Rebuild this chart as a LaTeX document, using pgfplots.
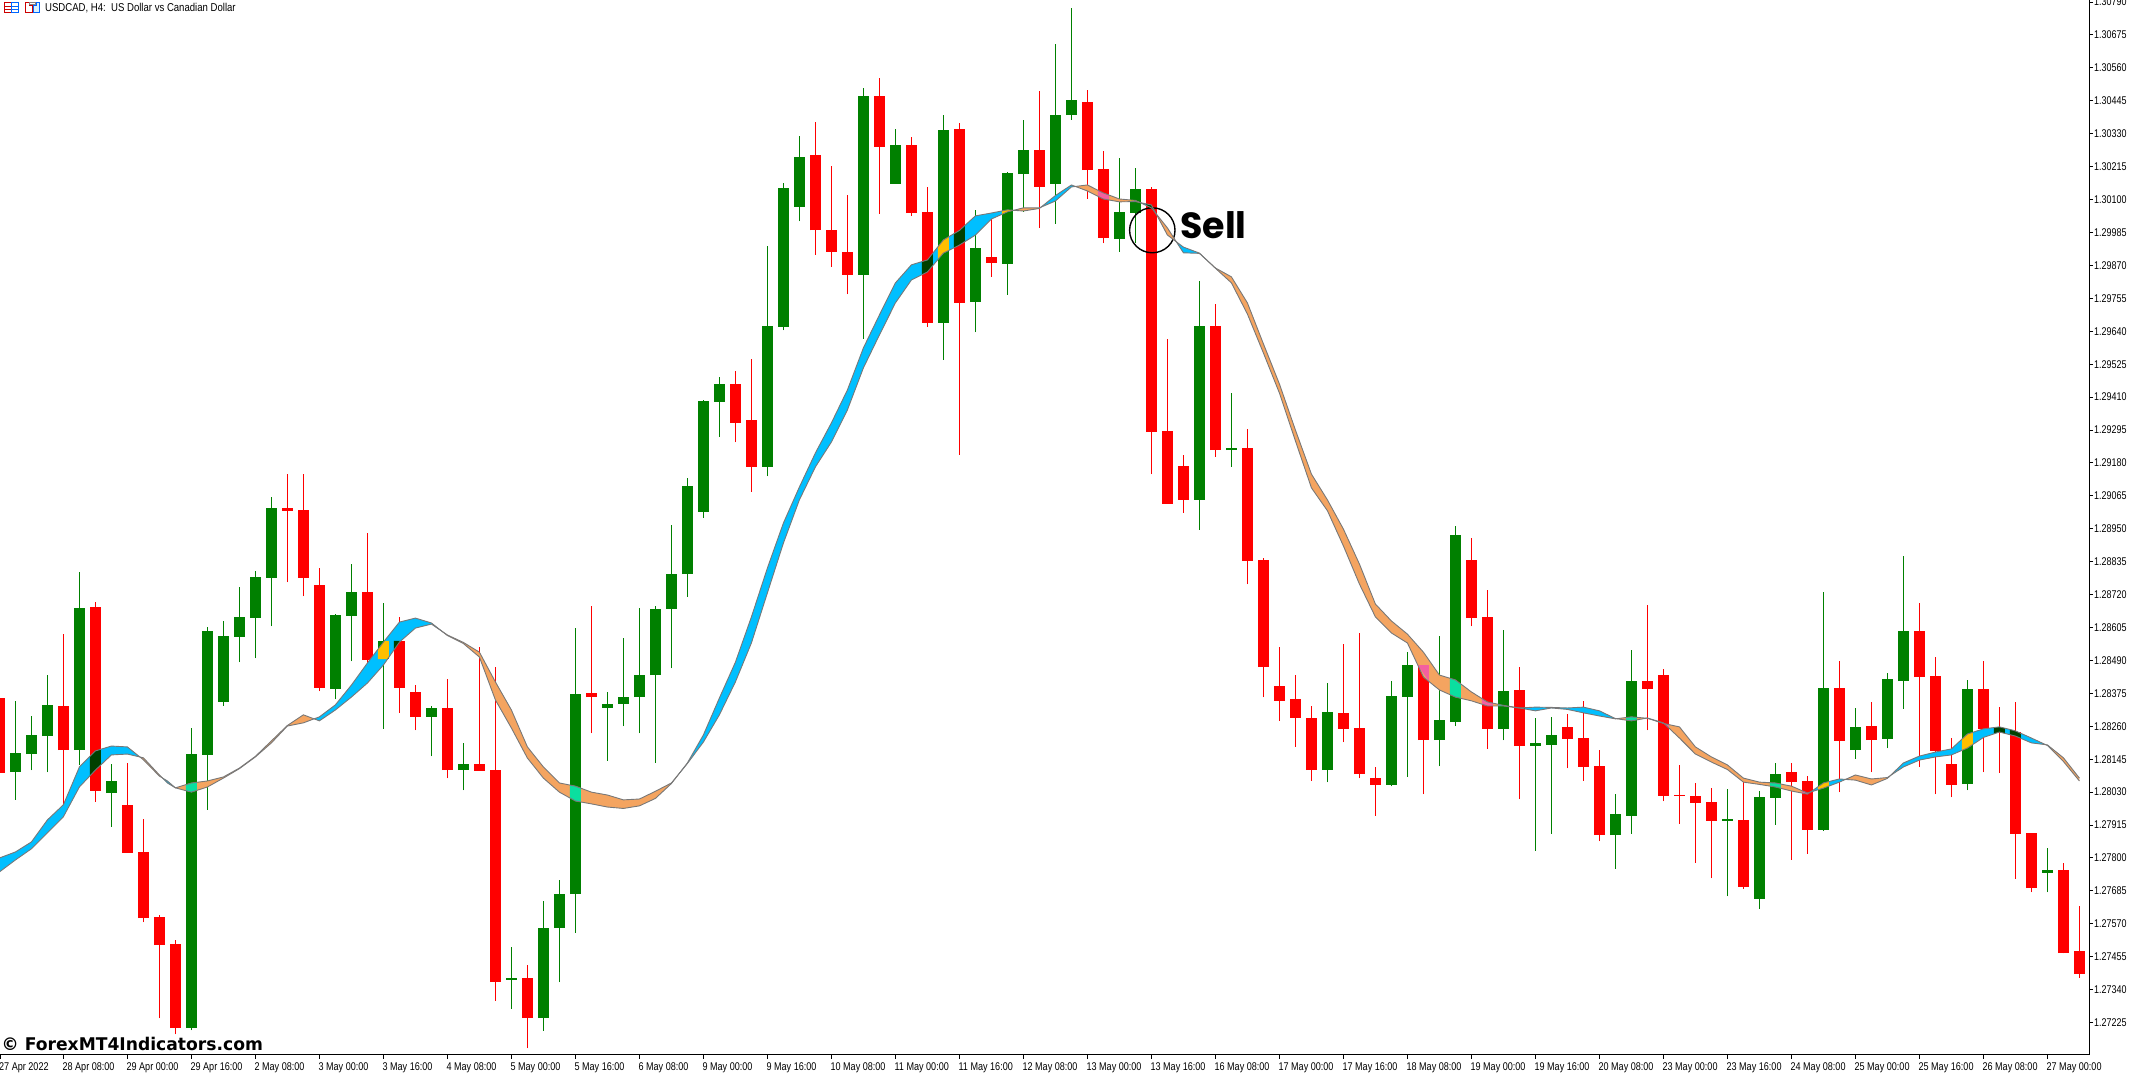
\documentclass[border=0pt]{standalone}
\usepackage{fontspec}
\setmainfont{Liberation Sans}
\newfontfamily\poppins{Poppins}
\newfontfamily\dvsans{DejaVu Sans}
\usepackage{pgfplots}
\usepackage{pgfplotstable}
\pgfplotsset{compat=1.18}
\usepgfplotslibrary{fillbetween}

\definecolor{cgreen}{HTML}{008000}
\definecolor{cred}{HTML}{FF0000}
\definecolor{cblue}{HTML}{00BFFF}
\definecolor{corange}{HTML}{F4A460}
\definecolor{cline}{HTML}{787878}
\definecolor{camber}{HTML}{FFBF00}
\definecolor{cdark}{HTML}{004000}
\definecolor{cteal}{HTML}{0BDF9F}
\definecolor{cpink}{HTML}{F4609F}

% USDCAD H4, k = bar number from the left edge
\pgfplotstableread{
k open high low close
0 1.28359 1.28359 1.28097 1.28097
1 1.28100 1.28349 1.28003 1.28167
2 1.28163 1.28296 1.28107 1.28230
3 1.28226 1.28439 1.28100 1.28335
4 1.28331 1.28582 1.27989 1.28177
5 1.28177 1.28799 1.28125 1.28673
6 1.28677 1.28694 1.27996 1.28034
7 1.28027 1.28128 1.27909 1.28069
8 1.27986 1.28132 1.27818 1.27818
9 1.27821 1.27937 1.27576 1.27590
10 1.27594 1.27601 1.27241 1.27496
11 1.27499 1.27513 1.27185 1.27206
12 1.27206 1.28254 1.27199 1.28163
13 1.28160 1.28607 1.27968 1.28593
14 1.28345 1.28628 1.28331 1.28575
15 1.28572 1.28747 1.28484 1.28642
16 1.28638 1.28803 1.28498 1.28782
17 1.28779 1.29061 1.28610 1.29023
18 1.29023 1.29141 1.28764 1.29013
19 1.29016 1.29141 1.28715 1.28779
20 1.28754 1.28813 1.28383 1.28394
21 1.28390 1.28652 1.28355 1.28649
22 1.28645 1.28827 1.28488 1.28729
23 1.28729 1.28936 1.28463 1.28491
24 1.28495 1.28691 1.28251 1.28558
25 1.28558 1.28642 1.28307 1.28394
26 1.28380 1.28404 1.28247 1.28293
27 1.28293 1.28331 1.28156 1.28324
28 1.28324 1.28425 1.28079 1.28107
29 1.28107 1.28202 1.28037 1.28128
30 1.28128 1.28537 1.28104 1.28104
31 1.28107 1.28467 1.27301 1.27366
32 1.27374 1.27489 1.27273 1.27381
33 1.27381 1.27426 1.27136 1.27241
34 1.27241 1.27650 1.27196 1.27555
35 1.27555 1.27723 1.27366 1.27674
36 1.27674 1.28603 1.27538 1.28373
37 1.28376 1.28680 1.28236 1.28362
38 1.28324 1.28380 1.28139 1.28338
39 1.28338 1.28568 1.28261 1.28362
40 1.28362 1.28673 1.28236 1.28439
41 1.28439 1.28680 1.28132 1.28670
42 1.28670 1.28964 1.28463 1.28792
43 1.28792 1.29128 1.28712 1.29100
44 1.29009 1.29400 1.28988 1.29396
45 1.29393 1.29480 1.29271 1.29456
46 1.29456 1.29501 1.29253 1.29320
47 1.29330 1.29543 1.29079 1.29166
48 1.29166 1.29938 1.29134 1.29658
49 1.29655 1.30158 1.29644 1.30140
50 1.30075 1.30322 1.30025 1.30249
51 1.30256 1.30371 1.29908 1.29992
52 1.29995 1.30217 1.29865 1.29917
53 1.29917 1.30116 1.29770 1.29837
54 1.29837 1.30490 1.29613 1.30462
55 1.30462 1.30525 1.30050 1.30284
56 1.30155 1.30347 1.30155 1.30291
57 1.30291 1.30319 1.30043 1.30053
58 1.30057 1.30144 1.29655 1.29669
59 1.29669 1.30395 1.29540 1.30343
60 1.30347 1.30367 1.29208 1.29739
61 1.29742 1.30064 1.29637 1.29931
62 1.29899 1.30032 1.29830 1.29878
63 1.29875 1.30196 1.29767 1.30193
64 1.30189 1.30378 1.30057 1.30273
65 1.30273 1.30479 1.30001 1.30144
66 1.30155 1.30643 1.30015 1.30395
67 1.30395 1.30769 1.30378 1.30448
68 1.30441 1.30483 1.30102 1.30203
69 1.30207 1.30270 1.29948 1.29966
70 1.29962 1.30245 1.29917 1.30057
71 1.30053 1.30210 1.29948 1.30137
72 1.30137 1.30144 1.29141 1.29288
73 1.29292 1.29613 1.29037 1.29037
74 1.29169 1.29208 1.29006 1.29051
75 1.29051 1.29816 1.28946 1.29658
76 1.29658 1.29735 1.29201 1.29225
77 1.29225 1.29424 1.29166 1.29232
78 1.29232 1.29299 1.28757 1.28837
79 1.28841 1.28848 1.28362 1.28467
80 1.28401 1.28537 1.28279 1.28349
81 1.28355 1.28439 1.28188 1.28289
82 1.28289 1.28331 1.28069 1.28107
83 1.28107 1.28411 1.28065 1.28310
84 1.28307 1.28548 1.28205 1.28251
85 1.28254 1.28586 1.28079 1.28093
86 1.28079 1.28118 1.27947 1.28055
87 1.28055 1.28418 1.28051 1.28366
88 1.28362 1.28519 1.28083 1.28474
89 1.28474 1.28516 1.28023 1.28212
90 1.28212 1.28575 1.28121 1.28282
91 1.28275 1.28960 1.28261 1.28928
92 1.28841 1.28918 1.28610 1.28638
93 1.28642 1.28736 1.28181 1.28251
94 1.28251 1.28596 1.28212 1.28383
95 1.28387 1.28467 1.28006 1.28191
96 1.28191 1.28289 1.27825 1.28202
97 1.28195 1.28293 1.27884 1.28230
98 1.28258 1.28303 1.28114 1.28216
99 1.28219 1.28349 1.28069 1.28118
100 1.28121 1.28177 1.27859 1.27880
101 1.27880 1.28023 1.27762 1.27954
102 1.27947 1.28526 1.27884 1.28418
103 1.28418 1.28684 1.28247 1.28390
104 1.28439 1.28460 1.27999 1.28017
105 1.28020 1.28125 1.27919 1.28017
106 1.28017 1.28062 1.27783 1.27993
107 1.27996 1.28044 1.27730 1.27930
108 1.27930 1.28041 1.27667 1.27937
109 1.27933 1.28079 1.27692 1.27699
110 1.27657 1.28034 1.27622 1.28013
111 1.28010 1.28132 1.27916 1.28093
112 1.28100 1.28132 1.27793 1.28065
113 1.28069 1.28086 1.27814 1.27898
114 1.27898 1.28729 1.27895 1.28394
115 1.28394 1.28488 1.28030 1.28209
116 1.28177 1.28324 1.28146 1.28258
117 1.28261 1.28345 1.28100 1.28212
118 1.28216 1.28446 1.28184 1.28425
119 1.28418 1.28855 1.28321 1.28593
120 1.28593 1.28691 1.28118 1.28432
121 1.28436 1.28502 1.28023 1.28174
122 1.28128 1.28219 1.28013 1.28055
123 1.28058 1.28422 1.28037 1.28390
124 1.28390 1.28488 1.28100 1.28251
125 1.28254 1.28328 1.28097 1.28236
126 1.28240 1.28345 1.27727 1.27884
127 1.27888 1.27888 1.27681 1.27695
128 1.27748 1.27835 1.27681 1.27758
129 1.27758 1.27783 1.27468 1.27468
130 1.27475 1.27632 1.27381 1.27395
}\ohlc

% the two averages of the ribbon
\pgfplotstableread{
k a b
0 1.27800 1.27751
1 1.27821 1.27793
2 1.27856 1.27832
3 1.27933 1.27888
4 1.27986 1.27944
5 1.28118 1.28048
6 1.28174 1.28107
7 1.28191 1.28160
8 1.28188 1.28163
9 1.28143 1.28150
10 1.28086 1.28090
10.5 1.28069 1.28062
11 1.28045 1.28045
12 1.28030 1.28062
13 1.28048 1.28069
14 1.28079 1.28083
15 1.28112 1.28114
16 1.28153 1.28155
17 1.28202 1.28209
18 1.28261 1.28263
19 1.28272 1.28300
20 1.28293 1.28279
21 1.28335 1.28317
22 1.28404 1.28362
23 1.28481 1.28411
24 1.28554 1.28474
25 1.28624 1.28554
26 1.28638 1.28603
27 1.28621 1.28617
28 1.28577 1.28579
29 1.28549 1.28553
30 1.28502 1.28519
31 1.28352 1.28415
32 1.28254 1.28317
33 1.28149 1.28188
34 1.28079 1.28118
35 1.28030 1.28062
36 1.27999 1.28051
37 1.27989 1.28030
38 1.27978 1.28020
39 1.27973 1.28003
40 1.27982 1.28006
41 1.28008 1.28033
42 1.28060 1.28062
43 1.28132 1.28130
44 1.28230 1.28205
45 1.28359 1.28300
46 1.28484 1.28415
47 1.28642 1.28551
48 1.28813 1.28726
49 1.28970 1.28900
50 1.29096 1.29051
51 1.29215 1.29166
52 1.29320 1.29253
53 1.29435 1.29365
54 1.29582 1.29512
55 1.29697 1.29627
56 1.29809 1.29739
57 1.29872 1.29819
58 1.29889 1.29847
59 1.29959 1.29913
60 1.29992 1.29941
61 1.30043 1.29976
62 1.30053 1.30032
63 1.30064 1.30057
64 1.30060 1.30071
65 1.30069 1.30071
66 1.30114 1.30095
67 1.30151 1.30144
68 1.30130 1.30151
69 1.30102 1.30123
70 1.30092 1.30102
71 1.30093 1.30097
72 1.30081 1.30071
73 1.29976 1.30001
74 1.29934 1.29914
75 1.29913 1.29912
76 1.29860 1.29861
77 1.29809 1.29830
78 1.29700 1.29739
79 1.29564 1.29596
80 1.29424 1.29456
81 1.29257 1.29295
82 1.29093 1.29141
83 1.29013 1.29051
84 1.28890 1.28949
85 1.28757 1.28827
86 1.28642 1.28687
87 1.28586 1.28628
88 1.28551 1.28582
89 1.28432 1.28519
90 1.28387 1.28439
91 1.28362 1.28422
92 1.28349 1.28380
93 1.28331 1.28345
94 1.28331 1.28333
95 1.28324 1.28324
96 1.28327 1.28314
97 1.28326 1.28324
98 1.28324 1.28319
99 1.28327 1.28307
100 1.28314 1.28296
101 1.28287 1.28286
102 1.28279 1.28293
103 1.28289 1.28288
104 1.28272 1.28270
105 1.28219 1.28258
106 1.28163 1.28188
107 1.28135 1.28153
108 1.28109 1.28125
109 1.28065 1.28079
110 1.28057 1.28065
111 1.28048 1.28062
112 1.28034 1.28051
113 1.28023 1.28027
114 1.28062 1.28044
115 1.28076 1.28065
116 1.28072 1.28090
117 1.28055 1.28076
118 1.28078 1.28081
119 1.28132 1.28118
120 1.28156 1.28142
121 1.28170 1.28153
122 1.28181 1.28160
123 1.28233 1.28184
124 1.28251 1.28221
125 1.28258 1.28240
126 1.28244 1.28226
127 1.28219 1.28202
128 1.28193 1.28195
129 1.28137 1.28150
130 1.28069 1.28079
}\ribbon

\pgfplotsset{layers/chart/.define layer set={axis background,axis grid,axis ticks,axis lines,axis tick labels,pre main,main,ribbon,ribbontop,axis descriptions,axis foreground}{}}

\newcommand{\band}[2]{\addplot[#1] fill between[of=A and B, on layer=ribbon, soft clip={domain=#2}];}
\newcommand{\patch}[2]{\addplot[#1] fill between[of=A and B, on layer=ribbon, soft clip={domain=#2-0.34:#2+0.34}];}

\begin{document}
\begin{tikzpicture}
\begin{axis}[
  set layers=chart, clip mode=individual,
  scale only axis, width=2089pt, height=1055pt,
  at={(0pt,0pt)}, anchor=south west,
  xmin=0.0375, xmax=130.6, ymin=1.271118, ymax=1.307973,
  axis x line*=bottom, axis y line*=right,
  axis line style={black, line width=1pt},
  tick style={black, line width=1pt},
  tick align=outside, major tick length=4pt,
  xtick={0.04,4,8,12,16,20,24,28,32,36,40,44,48,52,56,60,64,68,72,76,80,84,88,92,96,100,104,108,112,116,120,124,128},
  xticklabels={27 Apr 2022,28 Apr 08:00,29 Apr 00:00,29 Apr 16:00,2 May 08:00,3 May 00:00,3 May 16:00,4 May 08:00,5 May 00:00,5 May 16:00,6 May 08:00,9 May 00:00,9 May 16:00,10 May 08:00,11 May 00:00,11 May 16:00,12 May 08:00,13 May 00:00,13 May 16:00,16 May 08:00,17 May 00:00,17 May 16:00,18 May 08:00,19 May 00:00,19 May 16:00,20 May 08:00,23 May 00:00,23 May 16:00,24 May 08:00,25 May 00:00,25 May 16:00,26 May 08:00,27 May 00:00},
  ytick={1.27225,1.2734,1.27455,1.2757,1.27685,1.278,1.27915,1.2803,1.28145,1.2826,1.28375,1.2849,1.28605,1.2872,1.28835,1.2895,1.29065,1.2918,1.29295,1.2941,1.29525,1.2964,1.29755,1.2987,1.29985,1.301,1.30215,1.3033,1.30445,1.3056,1.30675,1.3079},
  scaled y ticks=false,
  yticklabel pos=right,
  yticklabel style={/pgf/number format/fixed, /pgf/number format/fixed zerofill,
    /pgf/number format/precision=5, /pgf/number format/assume math mode=true},
  tick label style={font=\fontsize{11.2}{12}\selectfont, black},
  x tick label style={anchor=north west, inner sep=0pt, xshift=-1pt, yshift=-3pt, xscale=.81},
  y tick label style={anchor=west, inner sep=0pt, xshift=1pt, xscale=.8},
  error bars/error mark=none,
]
\pgfplotsset{candle/.style={only marks, mark size=0pt, mark options={draw=none, fill=none}}}
% wicks
\addplot[cgreen, candle, error bars/.cd, y dir=plus, y explicit, error bar style={line width=1pt}]
  table[x expr={\thisrow{close}>=\thisrow{open} ? \thisrow{k} : nan}, y=low, y error expr=\thisrow{high}-\thisrow{low}] {\ohlc};
\addplot[cred, candle, error bars/.cd, y dir=plus, y explicit, error bar style={line width=1pt}]
  table[x expr={\thisrow{close}<\thisrow{open} ? \thisrow{k} : nan}, y=low, y error expr=\thisrow{high}-\thisrow{low}] {\ohlc};
% bodies
\addplot[cgreen, candle, error bars/.cd, y dir=plus, y explicit, error bar style={line width=11pt}]
  table[x expr={\thisrow{close}>=\thisrow{open} ? \thisrow{k} : nan}, y=open, y error expr=\thisrow{close}-\thisrow{open}] {\ohlc};
\addplot[cred, candle, error bars/.cd, y dir=plus, y explicit, error bar style={line width=11pt}]
  table[x expr={\thisrow{close}<\thisrow{open} ? \thisrow{k} : nan}, y=close, y error expr=\thisrow{open}-\thisrow{close}] {\ohlc};

% ribbon
\addplot[draw=none, name path=A] table[x=k, y=a] {\ribbon};
\addplot[draw=none, name path=B] table[x=k, y=b] {\ribbon};
\band{cblue}{0:8.78}
\band{corange}{8.78:10.2}
\band{cblue}{10.2:11}
\band{corange}{11:19.7}
\band{cblue}{19.7:27.67}
\band{corange}{27.67:42.5}
\band{cblue}{42.5:63.4}
\band{corange}{63.4:65.1}
\band{cblue}{65.1:67.25}
\band{corange}{67.25:71.29}
\band{cblue}{71.29:72.3}
\band{corange}{72.3:73.55}
\band{cblue}{73.55:75.5}
\band{corange}{75.5:95}
\band{cblue}{95:101.07}
\band{corange}{101.07:102.93}
\band{cblue}{102.93:104.05}
\band{corange}{104.05:113.18}
\band{cblue}{113.18:115.35}
\band{corange}{115.35:118.2}
\band{cblue}{118.2:127.9}
\band{corange}{127.9:130}
% where the ribbon crosses a candle body
\patch{cdark}{6}
\patch{cteal}{12}
\patch{cteal}{36}
\patch{cdark}{58}
\patch{camber}{59}
\patch{cdark}{60}
\patch{camber}{63}
\patch{cpink}{69}
\patch{camber}{71}
\patch{cdark}{72}
\patch{cteal}{91}
\patch{cpink}{93}
\patch{cteal}{94}
\patch{cdark}{95}
\patch{cteal}{102}
\patch{cpink}{104}
\patch{cteal}{111}
\patch{cpink}{113}
\patch{camber}{114}
\patch{camber}{123}
\patch{cdark}{125}
\patch{cdark}{126}
\addplot[fill=camber, draw=none, on layer=ribbon] coordinates {(23.66,1.28495) (23.66,1.28529) (24.06,1.28558) (24.34,1.28558) (24.34,1.28501) (24.26,1.28495)};
\addplot[fill=cdark, draw=none, on layer=ribbon] coordinates {(24.66,1.28527) (24.66,1.28558) (25.08,1.28558)};
\addplot[fill=cpink, draw=none, on layer=ribbon] coordinates {(88.66,1.28472) (88.66,1.28474) (89.34,1.28474) (89.34,1.28417)};
\addplot[cline, line width=.9pt, on layer=ribbontop] table[x=k, y=a] {\ribbon};
\addplot[cline, line width=.9pt, on layer=ribbontop] table[x=k, y=b] {\ribbon};
\end{axis}
% annotations
\draw[black, line width=1.4pt] (1152.3pt,824.7pt) ellipse (22.7pt and 22.5pt);
\node[anchor=base west, inner sep=0pt, font={\poppins\bfseries\fontsize{36.4}{38}\selectfont}] at (1180pt,816.7pt) {Sell};
\node[anchor=base west, inner sep=0pt, xscale=.98, font={\dvsans\bfseries\fontsize{17.5}{19}\selectfont}] at (1.5pt,4pt) {© ForexMT4Indicators.com};
\node[anchor=base west, inner sep=0pt, xscale=.84, font=\fontsize{11.4}{12}\selectfont] at (45pt,1043.5pt) {USDCAD, H4:\ \ US Dollar vs Canadian Dollar};
% toolbar icons
\draw[red!80!black, line width=.9pt] (4.5pt,1052.5pt) rectangle (11.5pt,1042.5pt);
\draw[blue!60!cyan, line width=.9pt] (11.5pt,1052.5pt) rectangle (18.5pt,1042.5pt);
\draw[red!80!black, line width=.7pt] (5pt,1049pt) -- (11pt,1049pt) (5pt,1046pt) -- (11pt,1046pt);
\draw[blue!60!cyan, line width=.7pt] (12pt,1049pt) -- (18pt,1049pt) (12pt,1046pt) -- (18pt,1046pt);
\draw[red!80!black, line width=.9pt] (25.5pt,1052.5pt) -- (29pt,1052.5pt) -- (29pt,1050pt) -- (32pt,1050pt) -- (32pt,1042.5pt) -- (25.5pt,1042.5pt) -- cycle;
\draw[gray, line width=.8pt] (29.5pt,1053pt) rectangle (35pt,1050.5pt);
\draw[blue!60!cyan, fill=cyan!15, line width=.9pt] (33.5pt,1050pt) -- (36pt,1050pt) -- (36pt,1052.5pt) -- (39.5pt,1052.5pt) -- (39.5pt,1042.5pt) -- (33.5pt,1042.5pt) -- cycle;
\pgfresetboundingbox
\useasboundingbox (0pt,-18pt) rectangle (2129pt,1055pt);
\end{tikzpicture}
\end{document}
